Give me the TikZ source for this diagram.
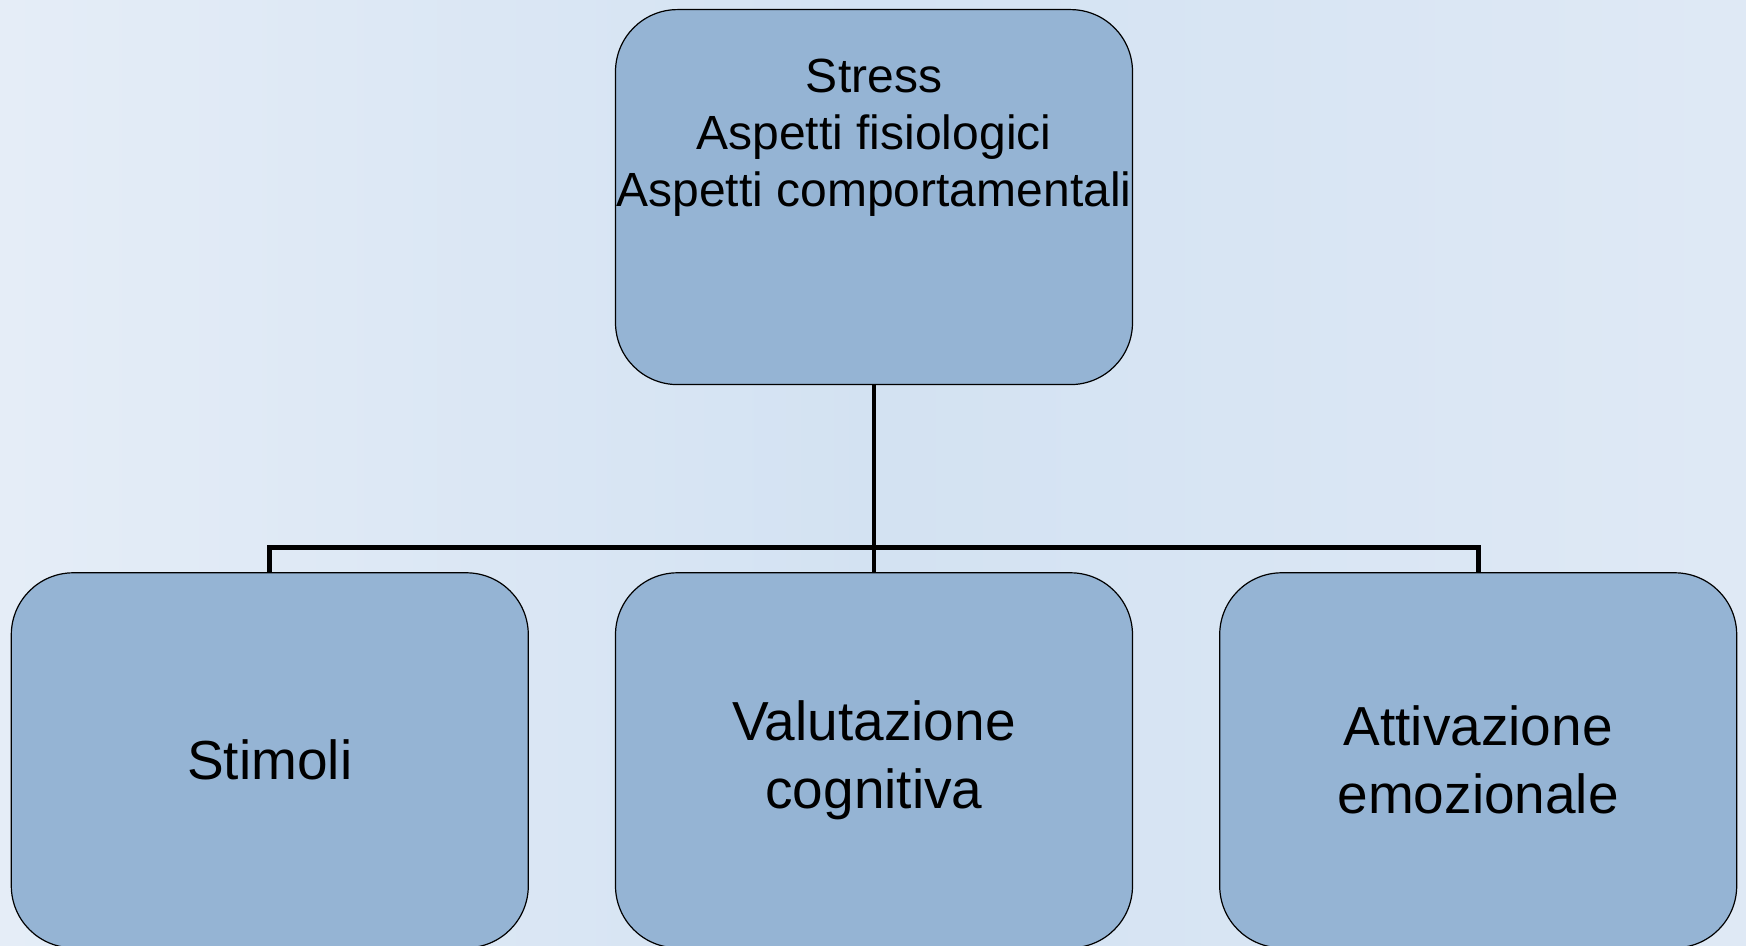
\documentclass[tikz,border=0pt]{standalone}
\usepackage{fontspec}
\setmainfont{Liberation Sans}
\usetikzlibrary{positioning, backgrounds, calc}

\definecolor{boxblue}{RGB}{149,180,212}
\definecolor{bgleft}{RGB}{229,237,247}
\definecolor{bgmid}{RGB}{211,226,242}
\definecolor{bgright}{RGB}{223,233,245}

\begin{document}
\begin{tikzpicture}[
    node distance=93.5pt and 43pt,
    % blocchi azzurri con angoli arrotondati
    box/.style={
        rectangle,
        draw=black,
        line width=0.6pt,
        fill=boxblue,
        rounded corners=31pt,
        minimum width=258.5pt,
        minimum height=187.5pt,
        inner sep=0pt,
        align=center,
        font=\fontsize{27.5}{34}\selectfont
    },
    conn/.style={line width=2.4pt, draw=black}
]
    \useasboundingbox (0,0) rectangle (873pt,-473pt);

    % --- BLOCCO SUPERIORE ---
    \node[box, anchor=north, text height=98.3pt, text depth=89.2pt,
          font=\fontsize{24}{28.5}\selectfont] (stress) at (437pt,-4.5pt)
        {Stress\\Aspetti fisiologici\\Aspetti comportamentali};

    % --- BLOCCHI INFERIORI ---
    \node[box, below=of stress] (valut) {Valutazione\\cognitiva};
    \node[box, left=of valut] (stimoli) {Stimoli};
    \node[box, right=of valut] (attiv) {Attivazione\\emozionale};

    % --- CONNESSIONI ---
    \coordinate (bus) at ($(stress.south)!0.87!(valut.north)$);
    \draw[conn] (stress) -- (valut);
    \draw[conn] (stimoli.north) |- (bus) -| (attiv.north);

    % --- SFONDO ---
    \begin{scope}[on background layer]
        \path[left color=bgleft, right color=bgright, middle color=bgmid]
        (0,0) rectangle (873pt,-473pt);
    \end{scope}

\end{tikzpicture}
\end{document}
